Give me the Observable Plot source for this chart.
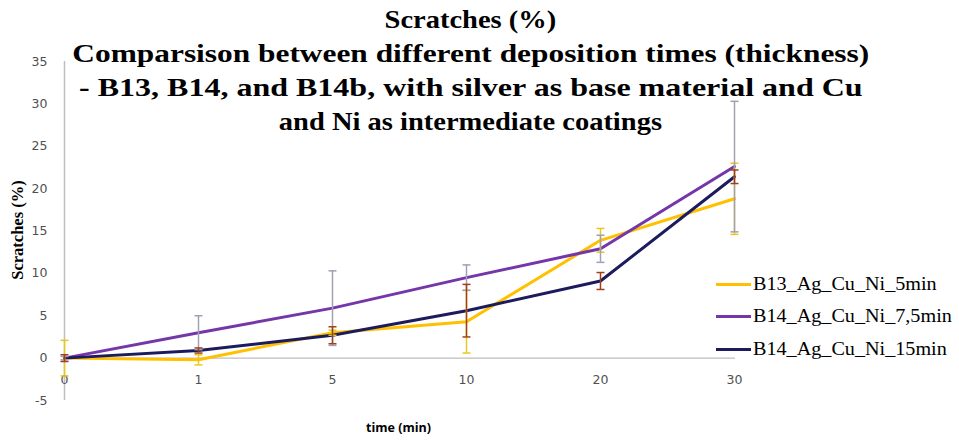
<!DOCTYPE html>
<html>
<head>
<meta charset="utf-8">
<script src="https://cdn.jsdelivr.net/npm/d3@7"></script>
<script src="https://cdn.jsdelivr.net/npm/@observablehq/plot@0.6"></script>
<style>
  html, body { margin: 0; padding: 0; background: #fff; }
  #wrap { position: relative; width: 959px; height: 441px; overflow: hidden; }
  #title { position: absolute; left: 0; top: 3px; width: 940px; text-align: center;
    font-family: "Liberation Serif", serif; font-weight: bold; font-size: 25px; line-height: 34px; color: #000; pointer-events: none; }
  #title div { display: block; transform-origin: 467px 0; }
  #ylabel { position: absolute; left: 18px; top: 230px; width: 0; height: 0; }
  #ylabel span { position: absolute; left: 0; top: 0; white-space: nowrap; transform: translate(-50%, -50%) rotate(-90deg);
    font-family: "Liberation Serif", serif; font-weight: bold; font-size: 16.5px; color: #000; line-height: 1; }
  #legend { position: absolute; left: 716px; top: 268px; width: 300px; font-family: "Liberation Serif", serif; font-size: 18px; color: #000; white-space: nowrap; }
  .li { display: flex; align-items: center; height: 32.5px; }
  .sw { flex: none; width: 35px; height: 3px; margin-right: 2px; }
  .lt { display: inline-block; transform: scaleX(1.12); transform-origin: 0 50%; }
</style>
</head>
<body>
<div id="wrap">
  <div id="chart"></div>
  <div id="title"></div>
  <div id="ylabel"><span></span></div>
  <div id="legend"></div>
</div>
<script>
const times = ["0", "1", "5", "10", "20", "30"];
const seriesNames = ["B13_Ag_Cu_Ni_5min", "B14_Ag_Cu_Ni_7,5min", "B14_Ag_Cu_Ni_15min"];
const b13 = [0, -0.2, 3.0, 4.3, 13.9, 18.8];
const b13Err = [2.1, 0.6, 0.3, 3.7, 1.4, 4.2];
const b14_75 = [0, 3.0, 5.9, 9.5, 12.9, 22.6];
const b14_75Err = [0.2, 2.0, 4.4, 1.5, 1.6, 7.7];
const b14_15 = [0, 0.9, 2.7, 5.6, 9.1, 21.4];
const b14_15Err = [0.4, 0.3, 1.0, 3.1, 1.0, 0.8];
const yTicks = [-5, 0, 5, 10, 15, 20, 25, 30, 35];
const yLabel = "Scratches (%)";
const xLabel = "time (min)";
const titleLines = [
  "Scratches (%)",
  "Comparsison between different deposition times (thickness)",
  "- B13, B14, and B14b, with silver as base material and Cu",
  "and Ni as intermediate coatings"
];
const titleStretch = [1.14, 1.255, 1.28, 1.14];
const lineColors = ["#FFC000", "#7436A8", "#1B1B5E"];
const errColors = ["#E8C820", "#A0A0B4", "#A0401A"];

const values = [b13, b14_75, b14_15];
const errs = [b13Err, b14_75Err, b14_15Err];
const data = [];
seriesNames.forEach((s, i) => times.forEach((t, j) => data.push({
  series: s, idx: i, t, v: values[i][j], lo: values[i][j] - errs[i][j], hi: values[i][j] + errs[i][j]
})));

// horizontal-dash symbol for error bar caps
const capSymbol = {
  draw(ctx, size) {
    const r = Math.sqrt(size / Math.PI);
    ctx.moveTo(-r, 0); ctx.lineTo(r, 0);
  }
};

const marks = [
  Plot.ruleY([0], {stroke: "#BEBEBE", strokeWidth: 1.3}),
  Plot.ruleX(["0"], {y1: -5, y2: 35, stroke: "#BEBEBE", strokeWidth: 1.5}),
  Plot.text(yTicks, {x: () => "0", y: d => d, text: d => String(d), textAnchor: "end", dx: -17,
    fontFamily: "DejaVu Sans", fontSize: 12.5, fill: "#505050"}),
  Plot.text(times, {x: d => d, y: () => 0, text: d => d, dy: 22,
    fontFamily: "DejaVu Sans", fontSize: 12.5, fill: "#505050"}),
];
seriesNames.forEach((s, i) => {
  const d = data.filter(r => r.idx === i);
  marks.push(Plot.line(d, {x: "t", y: "v", stroke: lineColors[i], strokeWidth: 3, curve: "linear"}));
});
seriesNames.forEach((s, i) => {
  const d = data.filter(r => r.idx === i);
  marks.push(Plot.ruleX(d, {x: "t", y1: "lo", y2: "hi", stroke: errColors[i], strokeWidth: 1.5}));
  marks.push(Plot.dot(d, {x: "t", y: "lo", symbol: capSymbol, r: 4, fill: "none", stroke: errColors[i], strokeWidth: 1.5}));
  marks.push(Plot.dot(d, {x: "t", y: "hi", symbol: capSymbol, r: 4, fill: "none", stroke: errColors[i], strokeWidth: 1.5}));
});
marks.push(Plot.text([xLabel], {frameAnchor: "bottom", dy: 31, dx: 63 + 335 - (63 + 735) / 2, text: d => d,
  fontFamily: "Open Sans", fontWeight: "bold", fontSize: 12.5, fill: "#000"}));

const chart = Plot.plot({
  width: 959,
  height: 441,
  marginLeft: 63,
  marginRight: 224,
  marginTop: 61,
  marginBottom: 41,
  x: {type: "point", domain: times, padding: 0, axis: null},
  y: {domain: [-5, 35], axis: null},
  style: {background: "#fff", overflow: "visible"},
  marks
});
document.getElementById("chart").appendChild(chart);

document.querySelector("#ylabel span").textContent = yLabel;

const title = document.getElementById("title");
titleLines.forEach((t, i) => {
  const el = document.createElement("div");
  el.textContent = t;
  el.style.transform = `scaleX(${titleStretch[i]})`;
  title.appendChild(el);
});

const legend = document.getElementById("legend");
seriesNames.forEach((s, i) => {
  const row = document.createElement("div"); row.className = "li";
  const sw = document.createElement("span"); sw.className = "sw"; sw.style.background = lineColors[i];
  const lt = document.createElement("span"); lt.className = "lt"; lt.textContent = s;
  row.appendChild(sw); row.appendChild(lt); legend.appendChild(row);
});
</script>
</body>
</html>
